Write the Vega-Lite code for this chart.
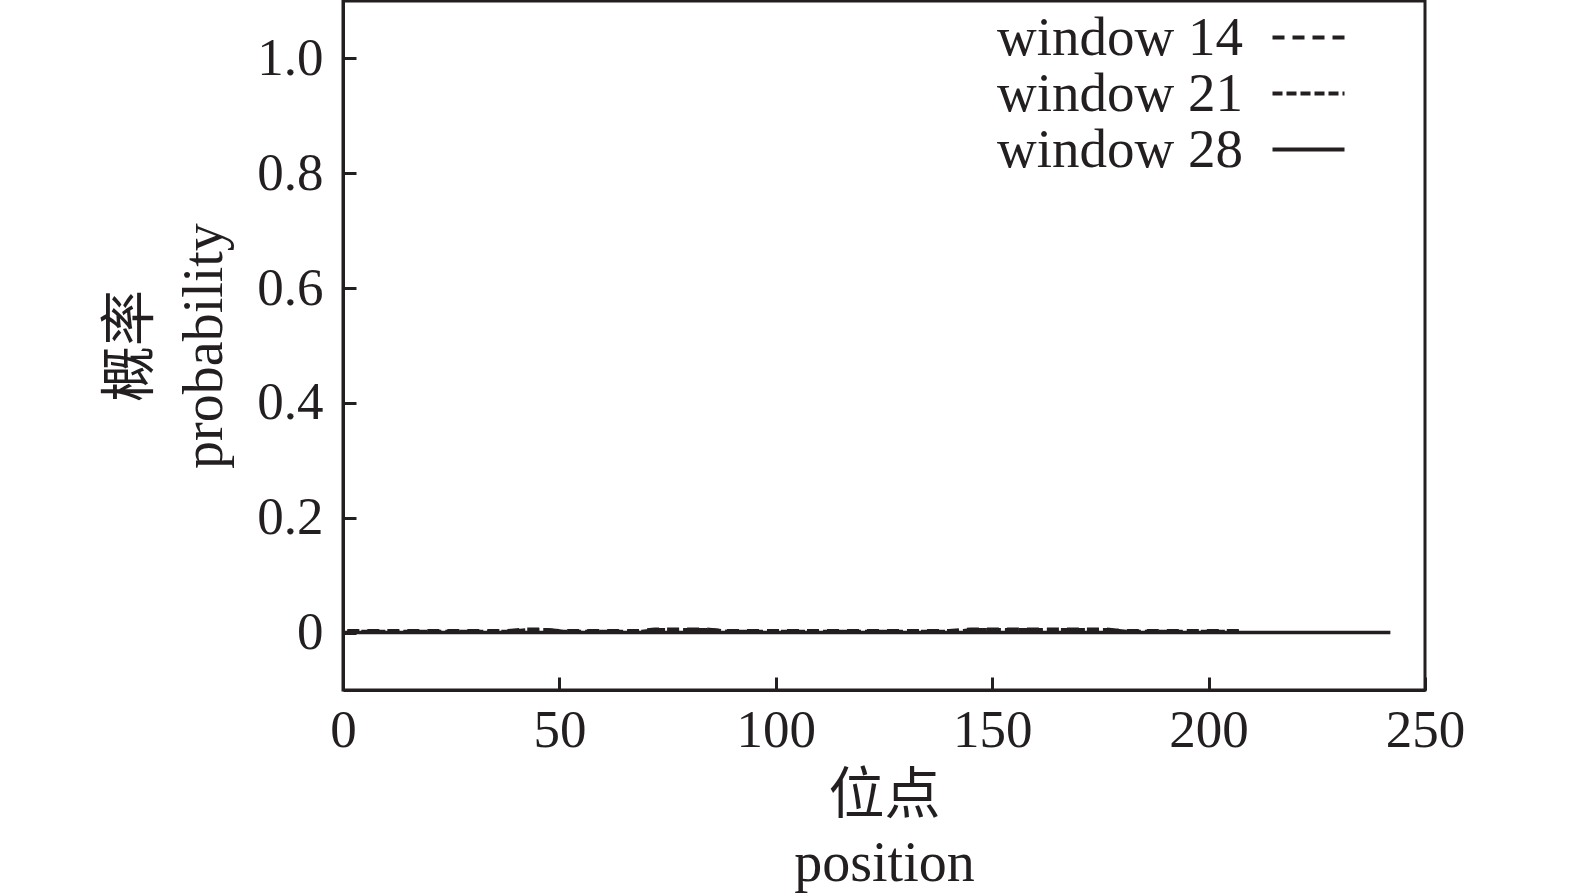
{
  "$schema": "https://vega.github.io/schema/vega-lite/v6.json",
  "width": 1082,
  "height": 689,
  "autosize": {"type": "none"},
  "padding": {"left": 343, "top": 1, "right": 150, "bottom": 205},
  "background": "white",
  "config": {
    "font": "Liberation Serif, Noto Sans CJK SC",
    "view": {"stroke": "#231f20", "strokeWidth": 3},
    "axis": {
      "domainColor": "#231f20",
      "domainWidth": 3,
      "tickColor": "#231f20",
      "tickWidth": 3,
      "tickSize": -13,
      "grid": false,
      "labelFont": "Liberation Serif",
      "labelFontSize": 53,
      "labelColor": "#231f20",
      "titleFont": "Liberation Serif, Noto Sans CJK SC",
      "titleFontSize": 56,
      "titleFontWeight": "normal",
      "titleColor": "#231f20"
    },
    "legend": {
      "labelFont": "Liberation Serif",
      "labelFontSize": 55,
      "labelColor": "#231f20",
      "labelLimit": 600
    }
  },
  "data": {
    "values": [
      {"pos": 1, "p": 0.003, "series": "window 14"},
      {"pos": 10, "p": 0.003, "series": "window 14"},
      {"pos": 20, "p": 0.003, "series": "window 14"},
      {"pos": 30, "p": 0.003, "series": "window 14"},
      {"pos": 38, "p": 0.003, "series": "window 14"},
      {"pos": 42, "p": 0.006, "series": "window 14"},
      {"pos": 46, "p": 0.006, "series": "window 14"},
      {"pos": 50, "p": 0.003, "series": "window 14"},
      {"pos": 60, "p": 0.003, "series": "window 14"},
      {"pos": 68, "p": 0.003, "series": "window 14"},
      {"pos": 72, "p": 0.006, "series": "window 14"},
      {"pos": 78, "p": 0.006, "series": "window 14"},
      {"pos": 84, "p": 0.006, "series": "window 14"},
      {"pos": 88, "p": 0.003, "series": "window 14"},
      {"pos": 100, "p": 0.003, "series": "window 14"},
      {"pos": 110, "p": 0.003, "series": "window 14"},
      {"pos": 120, "p": 0.003, "series": "window 14"},
      {"pos": 130, "p": 0.003, "series": "window 14"},
      {"pos": 140, "p": 0.003, "series": "window 14"},
      {"pos": 145, "p": 0.006, "series": "window 14"},
      {"pos": 152, "p": 0.006, "series": "window 14"},
      {"pos": 158, "p": 0.006, "series": "window 14"},
      {"pos": 164, "p": 0.006, "series": "window 14"},
      {"pos": 170, "p": 0.006, "series": "window 14"},
      {"pos": 176, "p": 0.006, "series": "window 14"},
      {"pos": 180, "p": 0.003, "series": "window 14"},
      {"pos": 190, "p": 0.003, "series": "window 14"},
      {"pos": 200, "p": 0.003, "series": "window 14"},
      {"pos": 207, "p": 0.003, "series": "window 14"},
      {"pos": 1, "p": 0.002, "series": "window 21"},
      {"pos": 10, "p": 0.002, "series": "window 21"},
      {"pos": 20, "p": 0.002, "series": "window 21"},
      {"pos": 30, "p": 0.002, "series": "window 21"},
      {"pos": 39, "p": 0.002, "series": "window 21"},
      {"pos": 43, "p": 0.005, "series": "window 21"},
      {"pos": 47, "p": 0.005, "series": "window 21"},
      {"pos": 51, "p": 0.002, "series": "window 21"},
      {"pos": 60, "p": 0.002, "series": "window 21"},
      {"pos": 69, "p": 0.002, "series": "window 21"},
      {"pos": 73, "p": 0.005, "series": "window 21"},
      {"pos": 80, "p": 0.005, "series": "window 21"},
      {"pos": 85, "p": 0.005, "series": "window 21"},
      {"pos": 89, "p": 0.002, "series": "window 21"},
      {"pos": 100, "p": 0.002, "series": "window 21"},
      {"pos": 110, "p": 0.002, "series": "window 21"},
      {"pos": 120, "p": 0.002, "series": "window 21"},
      {"pos": 130, "p": 0.002, "series": "window 21"},
      {"pos": 141, "p": 0.002, "series": "window 21"},
      {"pos": 146, "p": 0.005, "series": "window 21"},
      {"pos": 155, "p": 0.005, "series": "window 21"},
      {"pos": 162, "p": 0.005, "series": "window 21"},
      {"pos": 168, "p": 0.005, "series": "window 21"},
      {"pos": 177, "p": 0.005, "series": "window 21"},
      {"pos": 181, "p": 0.002, "series": "window 21"},
      {"pos": 190, "p": 0.002, "series": "window 21"},
      {"pos": 200, "p": 0.002, "series": "window 21"},
      {"pos": 207, "p": 0.002, "series": "window 21"},
      {"pos": 0, "p": 0.0, "series": "window 28"},
      {"pos": 20, "p": 0.0, "series": "window 28"},
      {"pos": 40, "p": 0.0, "series": "window 28"},
      {"pos": 60, "p": 0.0, "series": "window 28"},
      {"pos": 80, "p": 0.0, "series": "window 28"},
      {"pos": 100, "p": 0.0, "series": "window 28"},
      {"pos": 120, "p": 0.0, "series": "window 28"},
      {"pos": 140, "p": 0.0, "series": "window 28"},
      {"pos": 160, "p": 0.0, "series": "window 28"},
      {"pos": 180, "p": 0.0, "series": "window 28"},
      {"pos": 200, "p": 0.0, "series": "window 28"},
      {"pos": 220, "p": 0.0, "series": "window 28"},
      {"pos": 242, "p": 0.0, "series": "window 28"}
    ]
  },
  "mark": {"type": "line", "color": "#231f20", "strokeWidth": 3.5, "clip": true},
  "encoding": {
    "x": {
      "field": "pos",
      "type": "quantitative",
      "scale": {"domain": [0, 250], "nice": false, "zero": false},
      "axis": {
        "values": [0, 50, 100, 150, 200, 250],
        "labelPadding": 27,
        "labelFlush": false,
        "title": ["位点", "position"],
        "titleLineHeight": 68,
        "titleBaseline": "top",
        "titleY": 78
      }
    },
    "y": {
      "field": "p",
      "type": "quantitative",
      "scale": {"domain": [-0.1, 1.1], "nice": false, "zero": false},
      "axis": {
        "values": [0, 0.2, 0.4, 0.6, 0.8, 1.0],
        "labelExpr": "datum.value == 0 ? '0' : format(datum.value, '.1f')",
        "labelPadding": 33,
        "labelFlush": false,
        "title": ["概率", "probability"],
        "titleLineHeight": 74,
        "titleBaseline": "bottom",
        "titleX": -184
      }
    },
    "strokeDash": {
      "field": "series",
      "type": "nominal",
      "scale": {"domain": ["window 14", "window 21", "window 28"], "range": [[12, 8], [10, 4], [1, 0]]},
      "legend": {
        "title": null,
        "orient": "none",
        "legendX": 938,
        "legendY": 9,
        "symbolType": "M-3,0H3",
        "symbolSize": 576,
        "symbolStrokeWidth": 4,
        "symbolStrokeColor": "#231f20",
        "symbolFillColor": "transparent",
        "labelAlign": "right",
        "labelOffset": -93,
        "rowPadding": 0,
        "padding": 0
      }
    }
  }
}
